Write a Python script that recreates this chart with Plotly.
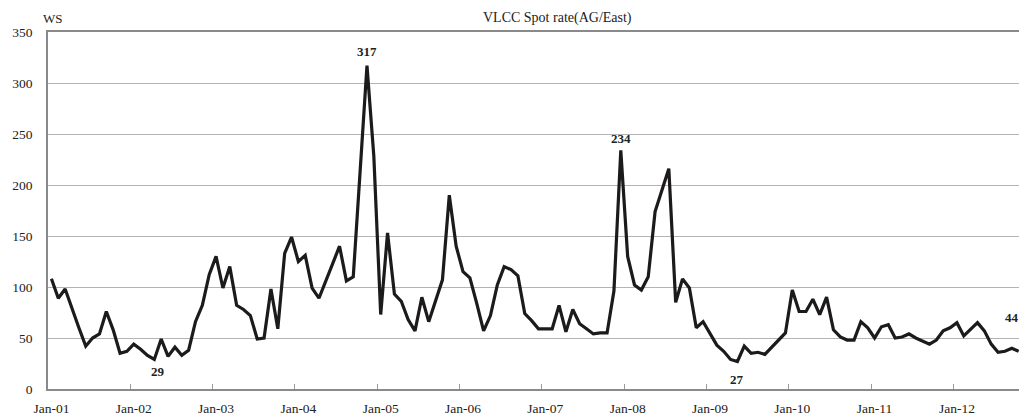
import plotly.graph_objects as go

# ---- data ----
years = ["01", "02", "03", "04", "05", "06", "07", "08", "09", "10", "11", "12"]
month_names = ["Jan", "Feb", "Mar", "Apr", "May", "Jun", "Jul", "Aug", "Sep", "Oct", "Nov", "Dec"]

ws_rate = [
    108, 89, 98, 78, 60, 42, 50, 54, 76, 58, 35, 37,        # 2001
    44, 39, 33, 29, 49, 32, 41, 33, 38, 66, 82, 112,        # 2002
    130, 99, 120, 82, 78, 72, 49, 50, 98, 59, 133, 149,     # 2003
    125, 131, 99, 89, 107, 123, 140, 106, 110, 215, 317, 228,  # 2004
    73, 153, 93, 86, 68, 57, 90, 66, 86, 107, 190, 140,     # 2005
    115, 109, 84, 57, 72, 102, 120, 117, 111, 74, 67, 59,   # 2006
    59, 59, 82, 56, 78, 64, 59, 54, 55, 55, 96, 234,        # 2007
    130, 102, 97, 110, 174, 195, 216, 85, 108, 99, 60, 66,  # 2008
    55, 43, 37, 29, 27, 42, 35, 36, 34, 41, 47, 55,         # 2009
    97, 76, 76, 88, 73, 90, 58, 51, 48, 48, 66, 60,         # 2010
    50, 61, 63, 50, 51, 54, 50, 47, 44, 48, 57, 60,         # 2011
    65, 52, 59, 65, 57, 44, 36, 37, 40, 37,                 # 2012
]

label_text = ["317", "234", "29", "27", "44"]
label_index = [46, 83, 15, 100, 140]
label_shift = [14, 12, -12, -18, 31]

months = [f"{m}-{y}" for y in years for m in month_names][:len(ws_rate)]

SERIF = "Liberation Serif, Times New Roman, serif"

fig = go.Figure()
fig.add_trace(go.Scatter(
    x=months, y=ws_rate, mode="lines",
    line=dict(color="#1c1a1a", width=3.2),
    showlegend=False, hoverinfo="skip", cliponaxis=False,
))

for t, i, s in zip(label_text, label_index, label_shift):
    fig.add_annotation(
        x=months[i], y=ws_rate[i], text=f"<b>{t}</b>", showarrow=False,
        yshift=s, xshift=4 if t == "29" else 0, yanchor="middle",
        font=dict(family=SERIF, size=13, color="#222222"),
    )

fig.add_annotation(
    xref="paper", yref="paper", x=0.525, y=1.039, yanchor="middle",
    text="VLCC Spot rate(AG/East)", showarrow=False,
    font=dict(family=SERIF, size=14, color="#222222"),
)
fig.add_annotation(
    xref="paper", yref="paper", x=-0.007, y=1.039, yanchor="middle",
    text="WS", showarrow=False,
    font=dict(family=SERIF, size=13, color="#222222"),
)

fig.update_layout(
    width=1019, height=416,
    margin=dict(l=48, r=0, t=32, b=27, autoexpand=False),
    paper_bgcolor="white", plot_bgcolor="white",
    font=dict(family=SERIF, size=13, color="#222222"),
)
fig.update_xaxes(
    type="category", tickmode="linear", tick0=0, dtick=12,
    tickson="boundaries", range=[-0.5, 141.05], tickangle=0, automargin=False,
    showgrid=False, showline=True, linecolor="#8a8a8a", linewidth=1.5,
    mirror=True, ticks="inside", ticklen=5, tickcolor="#9a9a9a", tickwidth=1,
    ticklabelstandoff=6,
    tickfont=dict(family=SERIF, size=13.5, color="#222222"),
)
fig.update_yaxes(
    range=[0, 350], tickmode="linear", tick0=0, dtick=50, automargin=False,
    showgrid=True, gridcolor="#b4b4b4", gridwidth=1,
    showline=True, linecolor="#8a8a8a", linewidth=1.5,
    zeroline=False, ticks="", ticklabelstandoff=11,
    tickfont=dict(family=SERIF, size=13.5, color="#222222"),
)

fig.write_html(
    "out.html",
    config={"displayModeBar": False},
    post_script="document.body.style.margin='0px';document.body.style.overflow='hidden';",
)
